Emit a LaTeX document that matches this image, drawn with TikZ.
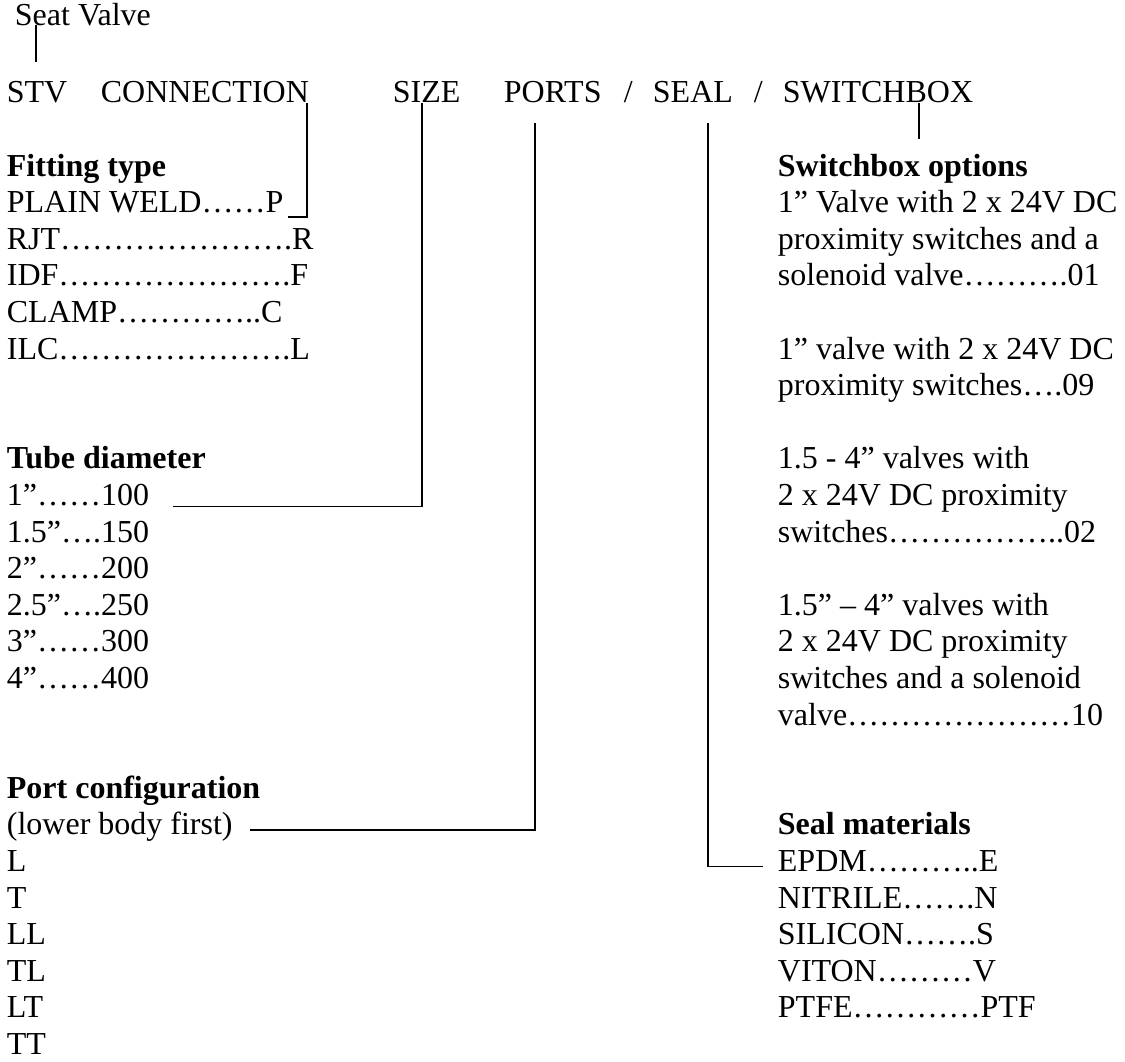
\documentclass[tikz,border=0pt]{standalone}
\usepackage{fontspec}
\setmainfont{Liberation Serif}
\newcommand\valvefont{\fontsize{32}{36.6}\selectfont}
\tikzset{txt/.style={anchor=base west,inner sep=0pt,font=\valvefont},
  head/.style={txt,font=\valvefont\bfseries}}
\begin{document}
\begin{tikzpicture}[x=1pt,y=-1pt,line width=1.8pt]
\useasboundingbox (0,0) rectangle (1125,1061);
\node[txt] (seat) at (14,25) {Seat Valve};
\node[txt] (stv) at (6,102) {STV};
\node[txt] (conn) at (100,102) {CONNECTION};
\node[txt] (size) at (392,102) {SIZE};
\node[txt] (ports) at (503,102) {PORTS};
\node[txt] (sl1) at (623,102) {/};
\node[txt] (seal) at (652,102) {SEAL};
\node[txt] (sl2) at (753,102) {/};
\node[txt] (swbox) at (782,102) {SWITCHBOX};
\node[head] (fit) at (6,176) {Fitting type};
\node[txt] (fit1) at (6,212.6) {PLAIN WELD……P};
\node[txt] (fit2) at (6,249.2) {RJT………………….R};
\node[txt] (fit3) at (6,285.8) {IDF………………….F};
\node[txt] (fit4) at (6,322.4) {CLAMP…………..C};
\node[txt] (fit5) at (6,359) {ILC………………….L};
\node[head] (tube) at (6,468.8) {Tube diameter};
\node[txt] (tube1) at (6,505.4) {1”……100};
\node[txt] (tube2) at (6,542) {1.5”….150};
\node[txt] (tube3) at (6,578.6) {2”……200};
\node[txt] (tube4) at (6,615.2) {2.5”….250};
\node[txt] (tube5) at (6,651.8) {3”……300};
\node[txt] (tube6) at (6,688.4) {4”……400};
\node[head] (port) at (6,798.2) {Port configuration};
\node[txt] (lowfirst) at (6,834.8) {(lower body first)};
\foreach \t [count=\k] in {L,T,LL,TL,LT,TT}
  \node[txt] (port\k) at (6,{834.8+36.6*\k}) {\t};
\node[head] (swopt) at (777,176) {Switchbox options};
\node[txt] (sw1) at (777,212.6) {1” Valve with 2 x 24V DC};
\node[txt] (sw2) at (777,249.2) {proximity switches and a};
\node[txt] (sw3) at (777,285.8) {solenoid valve……….01};
\node[txt] (sw5) at (777,359) {1” valve with 2 x 24V DC};
\node[txt] (sw6) at (777,395.6) {proximity switches….09};
\node[txt] (sw8) at (777,468.8) {1.5 - 4” valves with};
\node[txt] (sw9) at (777,505.4) {2 x 24V DC proximity};
\node[txt] (sw10) at (777,542) {switches……………..02};
\node[txt] (sw12) at (777,615.2) {1.5” – 4” valves with};
\node[txt] (sw13) at (777,651.8) {2 x 24V DC proximity};
\node[txt] (sw14) at (777,688.4) {switches and a solenoid};
\node[txt] (sw15) at (777,725) {valve…………………10};
\node[head] (sealmat) at (777,834.8) {Seal materials};
\node[txt] (seal1) at (777,871.4) {EPDM………..E};
\node[txt] (seal2) at (777,908) {NITRILE…….N};
\node[txt] (seal3) at (777,944.6) {SILICON…….S};
\node[txt] (seal4) at (777,981.2) {VITON………V};
\node[txt] (seal5) at (777,1017.8) {PTFE…………PTF};
\draw ([xshift=22pt]seat.base west) -- ++(0,37);
\draw ([xshift=-3pt]conn.south east) |- ([xshift=4pt,yshift=-4pt]fit1.base east);
\draw ([xshift=-5pt]size.south) |- ([xshift=23pt,yshift=-1pt]tube1.base east);
\draw ([xshift=-18pt,yshift=-20pt]ports.south) |- ([xshift=16pt,yshift=5pt]lowfirst.base east);
\draw ([xshift=15pt,yshift=-20pt]seal.south) |- ([xshift=-14pt,yshift=5pt]seal1.base west);
\draw ([xshift=41pt]swbox.south) -- ++(0,36);
\end{tikzpicture}
\end{document}
